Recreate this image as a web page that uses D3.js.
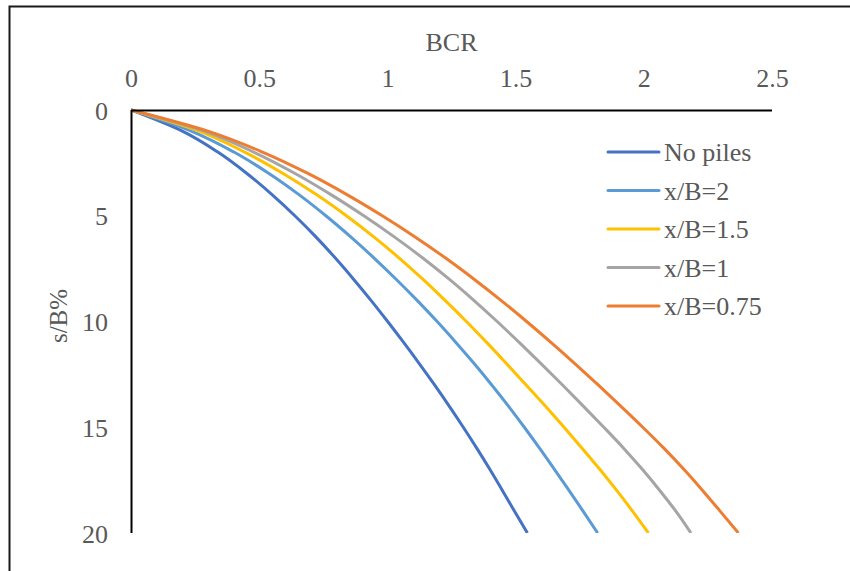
<!DOCTYPE html>
<html>
<head>
<meta charset="utf-8">
<script src="https://cdn.jsdelivr.net/npm/d3@7"></script>
<style>
  html, body { margin: 0; padding: 0; background: #fff; }
  svg { display: block; }
</style>
</head>
<body>
<svg id="chart" width="850" height="571"></svg>
<script>
// Settlement ratio s/B (%) sampled at each whole percent
const settlement = [0, 1, 2, 3, 4, 5, 6, 7, 8, 9, 10, 11, 12, 13, 14, 15, 16, 17, 18, 19, 20];

// Bearing capacity ratio for each configuration at those settlements
const noPiles  = [0, 0.200, 0.340, 0.452, 0.550, 0.639, 0.721, 0.797, 0.868, 0.936, 1.001, 1.064, 1.125, 1.184, 1.241, 1.296, 1.349, 1.400, 1.449, 1.497, 1.546];
const xB2      = [0, 0.235, 0.403, 0.538, 0.655, 0.760, 0.857, 0.948, 1.034, 1.116, 1.194, 1.268, 1.339, 1.407, 1.472, 1.534, 1.594, 1.652, 1.709, 1.765, 1.820];
const xB15     = [0, 0.265, 0.445, 0.593, 0.723, 0.840, 0.947, 1.046, 1.138, 1.225, 1.308, 1.388, 1.465, 1.541, 1.616, 1.689, 1.760, 1.829, 1.895, 1.958, 2.018];
const xB1      = [0, 0.285, 0.480, 0.640, 0.780, 0.908, 1.027, 1.138, 1.241, 1.337, 1.428, 1.515, 1.600, 1.683, 1.764, 1.844, 1.922, 1.995, 2.063, 2.127, 2.184];
const xB075    = [0, 0.300, 0.515, 0.690, 0.842, 0.980, 1.108, 1.227, 1.338, 1.443, 1.543, 1.639, 1.732, 1.822, 1.910, 1.996, 2.079, 2.157, 2.230, 2.300, 2.369];

const seriesNames  = ["No piles", "x/B=2", "x/B=1.5", "x/B=1", "x/B=0.75"];
const seriesValues = [noPiles, xB2, xB15, xB1, xB075];
const seriesColors = ["#4472C4", "#5B9BD5", "#FFC000", "#A5A5A5", "#ED7D31"];

const xTickValues = [0, 0.5, 1, 1.5, 2, 2.5];
const yTickValues = [0, 5, 10, 15, 20];

const FONT = "Liberation Serif, Tinos, Times New Roman, DejaVu Serif, serif";
const TEXT_COLOR = "#595959";

const svg = d3.select("#chart");

// Plot frame: BCR runs along the top edge, settlement grows downward
const plot = { left: 131, right: 772, top: 110, bottom: 533 };

const x = d3.scaleLinear().domain([0, 2.5]).range([plot.left, plot.right]);
const y = d3.scaleLinear().domain([0, 20]).range([plot.top, plot.bottom]);

// Outer chart border (top and left edges)
svg.append("path")
  .attr("d", "M9.5,571 V6.5 H850")
  .attr("fill", "none")
  .attr("stroke", "#1a1a1a")
  .attr("stroke-width", 2);

// Clip so the curves stop at the plot's lower edge
svg.append("clipPath").attr("id", "plot-clip")
  .append("rect")
  .attr("x", plot.left).attr("y", plot.top - 5)
  .attr("width", plot.right - plot.left + 20)
  .attr("height", plot.bottom - plot.top + 5);

const line = d3.line()
  .x(d => x(d[0]))
  .y(d => y(d[1]))
  .curve(d3.curveMonotoneY);

const curves = svg.append("g").attr("clip-path", "url(#plot-clip)");
seriesValues.forEach((vals, i) => {
  const pts = vals.map((v, k) => [v, settlement[k]]);
  curves.append("path")
    .datum(pts)
    .attr("d", line)
    .attr("fill", "none")
    .attr("stroke", seriesColors[i])
    .attr("stroke-width", 3)
    .attr("stroke-linejoin", "round");
});

// Axes: top for BCR, left for s/B%
const xAxis = d3.axisTop(x).tickValues(xTickValues).tickSize(0).tickPadding(0)
  .tickFormat(d => String(d));
const gx = svg.append("g").attr("transform", `translate(0,${plot.top})`).call(xAxis)
  .attr("font-family", FONT).attr("font-size", 26);
gx.select(".domain").attr("stroke", "#000").attr("stroke-width", 2)
  .attr("d", `M${plot.left},0.5H${plot.right}`);
gx.selectAll(".tick text")
  .attr("y", -23).attr("dy", 0)
  .attr("fill", TEXT_COLOR);

const yAxis = d3.axisLeft(y).tickValues(yTickValues).tickSize(0).tickPadding(0)
  .tickFormat(d => String(d));
const gy = svg.append("g").attr("transform", `translate(${plot.left},0)`).call(yAxis)
  .attr("font-family", FONT).attr("font-size", 26);
gy.select(".domain").attr("stroke", "#000").attr("stroke-width", 2)
  .attr("d", `M0.5,${plot.top}V${plot.bottom}`);
gy.selectAll(".tick text")
  .attr("x", -23).attr("dy", 0).attr("y", 9)
  .attr("fill", TEXT_COLOR);

// Axis titles
svg.append("text")
  .attr("x", (plot.left + plot.right) / 2)
  .attr("y", 51)
  .attr("text-anchor", "middle")
  .attr("font-family", FONT).attr("font-size", 26)
  .attr("fill", TEXT_COLOR)
  .text("BCR");

svg.append("text")
  .attr("transform", "translate(67,316) rotate(-90)")
  .attr("text-anchor", "middle")
  .attr("font-family", FONT).attr("font-size", 25)
  .attr("fill", TEXT_COLOR)
  .text("s/B%");

// Legend
const legend = svg.append("g").attr("transform", "translate(608,152)");
seriesNames.forEach((name, i) => {
  const row = legend.append("g").attr("transform", `translate(0,${i * 38.5})`);
  row.append("line")
    .attr("x1", 0).attr("x2", 51).attr("y1", 0).attr("y2", 0)
    .attr("stroke", seriesColors[i])
    .attr("stroke-width", 3)
    .attr("stroke-linecap", "round");
  row.append("text")
    .attr("x", 56).attr("y", 9)
    .attr("font-family", FONT).attr("font-size", 26)
    .attr("fill", TEXT_COLOR)
    .text(name);
});
</script>
</body>
</html>
